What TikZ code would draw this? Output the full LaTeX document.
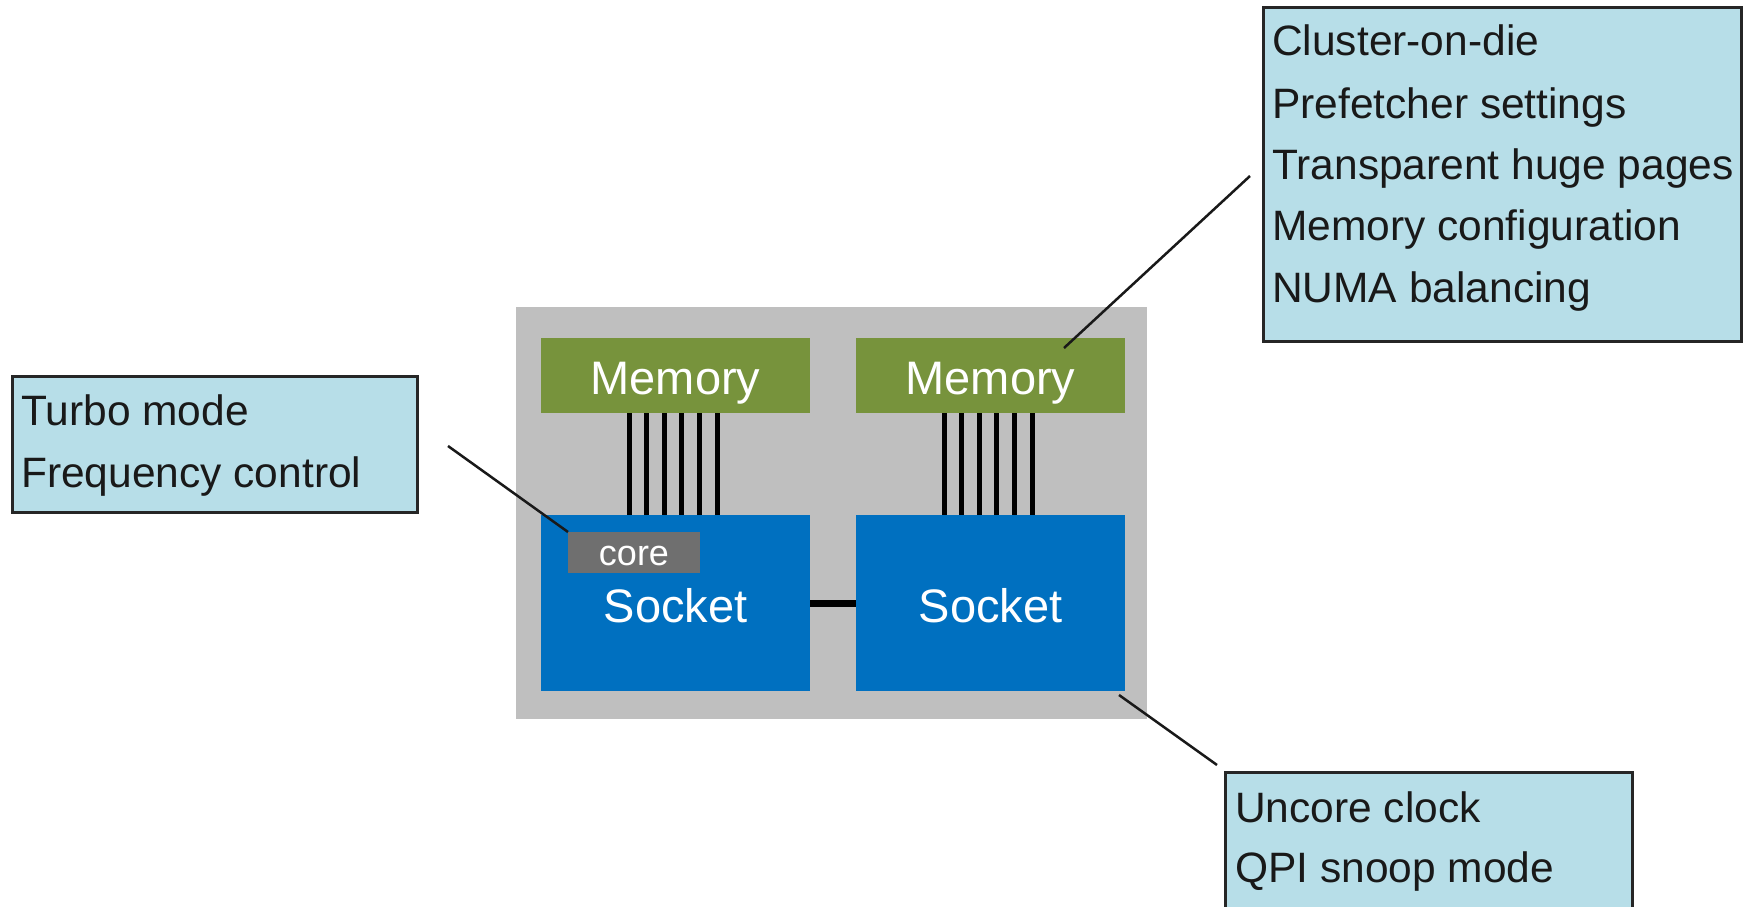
\documentclass[tikz,border=0pt]{standalone}
\usepackage{fontspec}
\setmainfont{Liberation Sans}
\definecolor{infoblue}{HTML}{B7DEE8}
\definecolor{memgreen}{HTML}{77933C}
\definecolor{sockblue}{HTML}{0070C0}
\definecolor{diegray}{HTML}{BFBFBF}
\definecolor{coregray}{HTML}{6F6F6F}
\definecolor{edgegray}{HTML}{262626}
\begin{document}
\begin{tikzpicture}[x=1pt,y=-1pt,
  panel/.style={draw=none,inner sep=0pt,outer sep=0pt,anchor=north west},
  infobox/.style={draw=edgegray,line width=3pt,fill=infoblue,inner sep=0pt,outer sep=0pt,anchor=north west},
  infotext/.style={anchor=base west,inner sep=0pt,text=black!90,font=\fontsize{42.5}{50}\selectfont},
  bigwhite/.style={anchor=base,inner sep=0pt,text=white,font=\fontsize{47}{55}\selectfont},
  corewhite/.style={anchor=base,inner sep=0pt,text=white,font=\fontsize{36}{42}\selectfont},
  bus/.style={line width=5pt,black},
  linkline/.style={line width=7pt,black},
  leader/.style={line width=2.5pt,black!90}]
\useasboundingbox (0,0) rectangle (1748,907);
\clip (0,0) rectangle (1748,907);
% die
\node[panel,fill=diegray,minimum width=631pt,minimum height=412pt] (die) at (516,307) {};
% memories
\node[panel,fill=memgreen,minimum width=269pt,minimum height=75pt] (memL) at (541,338) {};
\node[panel,fill=memgreen,minimum width=269pt,minimum height=75pt] (memR) at (856,338) {};
\node[bigwhite] (memLt) at (675.5,394) {Memory};
\node[bigwhite] (memRt) at (990.5,394) {Memory};
% sockets
\node[panel,fill=sockblue,minimum width=269pt,minimum height=176pt] (sockL) at (541,515) {};
\node[panel,fill=sockblue,minimum width=269pt,minimum height=176pt] (sockR) at (856,515) {};
\node[bigwhite] (sockLt) at (675.5,622) {Socket};
\node[bigwhite] (sockRt) at (990.5,622) {Socket};
% core
\node[panel,fill=coregray,minimum width=132pt,minimum height=41pt] (core) at (568,532) {};
\node[corewhite] (coret) at (634,565) {core};
% buses
\foreach \dx in {-46.5,-28.9,-11.3,6.3,23.9,41.5}{
  \draw[bus] ([xshift=\dx pt]memL.south) -- ([xshift=\dx pt]sockL.north);
  \draw[bus] ([xshift=\dx pt]memR.south) -- ([xshift=\dx pt]sockR.north);
}
% socket link
\draw[linkline] (sockL.east) -- (sockR.west);
% info boxes
\node[infobox,minimum width=405pt,minimum height=136pt] (boxL) at (12.5,376.5) {};
\node[infotext] at (21,425) {Turbo mode};
\node[infotext] at (21,487) {Frequency control};
\node[infobox,minimum width=478pt,minimum height=334pt] (boxTR) at (1263.5,7.5) {};
\node[infotext] at (1272,56) {Cluster-on-die};
\node[infotext] at (1272,118) {Prefetcher settings};
\node[infotext] at (1272,179) {Transparent huge pages};
\node[infotext] at (1272,240) {Memory configuration};
\node[infotext] at (1272,302) {NUMA balancing};
\node[infobox,minimum width=407pt,minimum height=170pt] (boxBR) at (1225.5,772.5) {};
\node[infotext] at (1235,822) {Uncore clock};
\node[infotext] at (1235,882) {QPI snoop mode};
% leaders
\coordinate (ls) at (448,446);
\coordinate (ts) at (1250,176);
\coordinate (te) at (1064,348);
\coordinate (bs) at (1119,695);
\coordinate (be) at (1217,765);
\draw[leader] (ls) -- (core.north west);
\draw[leader] (ts) -- (te);
\draw[leader] (bs) -- (be);
\end{tikzpicture}
\end{document}
